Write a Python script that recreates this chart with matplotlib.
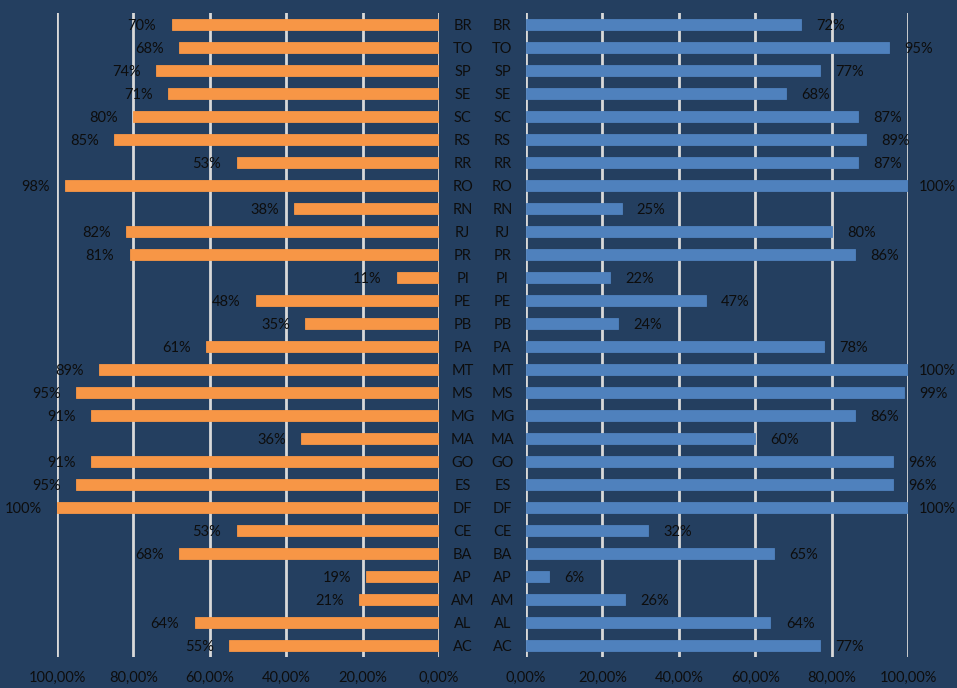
import matplotlib
matplotlib.use("Agg")
import matplotlib.pyplot as plt

states = ["BR", "TO", "SP", "SE", "SC", "RS", "RR", "RO", "RN", "RJ", "PR", "PI", "PE", "PB",
          "PA", "MT", "MS", "MG", "MA", "GO", "ES", "DF", "CE", "BA", "AP", "AM", "AL", "AC"]
left_vals = [70, 68, 74, 71, 80, 85, 53, 98, 38, 82, 81, 11, 48, 35,
             61, 89, 95, 91, 36, 91, 95, 100, 53, 68, 19, 21, 64, 55]
right_vals = [72, 95, 77, 68, 87, 89, 87, 100, 25, 80, 86, 22, 47, 24,
              78, 100, 99, 86, 60, 96, 96, 100, 32, 65, 6, 26, 64, 77]
ticks = [0, 20, 40, 60, 80, 100]
tick_labels = ["0,00%", "20,00%", "40,00%", "60,00%", "80,00%", "100,00%"]

BG = "#243F60"
ORANGE = "#F79646"
BLUE = "#4F81BD"
GRID = "#D9D9D9"
TXT = "#0D0D0D"
plt.rcParams['font.family'] = ['Lato', 'DejaVu Sans']
FS = 10.5

W, H = 957, 688
fig = plt.figure(figsize=(W / 100, H / 100), dpi=100, facecolor=BG)

bottom = (H - 657) / H
height = (657 - 13) / H
axL = fig.add_axes([57 / W, bottom, 382 / W, height])
axR = fig.add_axes([526 / W, bottom, 382 / W, height])

n = len(states)
ypos = list(range(n))

for ax, vals, color, side in [(axL, left_vals, ORANGE, "L"), (axR, right_vals, BLUE, "R")]:
    ax.set_facecolor(BG)
    ax.barh(ypos, vals, height=0.44, color=color, edgecolor=color, linewidth=0.6, zorder=3)
    ax.set_xlim(0, 100)
    ax.set_ylim(n - 0.5, -0.5)
    ax.set_xticks(ticks)
    ax.set_xticklabels(tick_labels, fontsize=FS, color=TXT)
    ax.tick_params(axis='x', length=0, pad=10)
    ax.set_yticks([])
    for s in ax.spines.values():
        s.set_visible(False)
    for t in ticks:
        ax.axvline(t, color=GRID, linewidth=2, zorder=1)
    for i, v in enumerate(vals):
        if side == "L":
            ax.annotate(f"{v}%", xy=(v, i), xytext=(-11, -1), textcoords="offset points",
                        ha="right", va="center", fontsize=FS, color=TXT, zorder=4)
        else:
            off = 11 if v < 100 else 7.5
            ax.annotate(f"{v}%", xy=(v, i), xytext=(off, -1), textcoords="offset points",
                        ha="left", va="center", fontsize=FS, color=TXT, zorder=4)

axL.invert_xaxis()

# category labels in the middle
for i, s in enumerate(states):
    axL.annotate(s, xy=(0, i), xytext=(17, -1), textcoords="offset points",
                 ha="center", va="center", fontsize=FS, color=TXT, annotation_clip=False)
    axR.annotate(s, xy=(0, i), xytext=(-17, -1), textcoords="offset points",
                 ha="center", va="center", fontsize=FS, color=TXT, annotation_clip=False)

fig.savefig("out.png", dpi=100, facecolor=BG)
